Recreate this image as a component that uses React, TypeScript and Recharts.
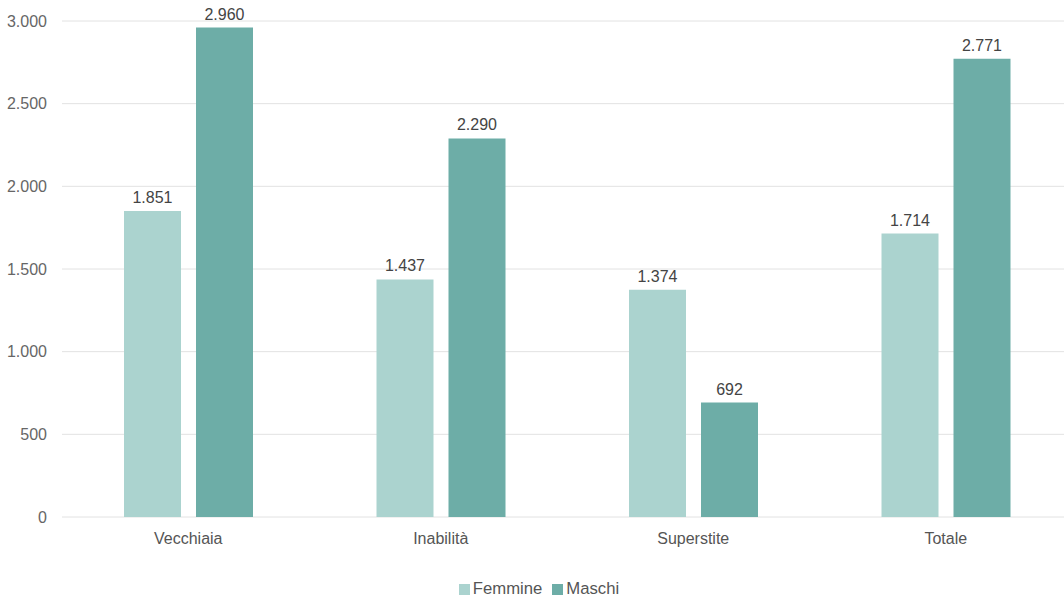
import React from "react";
import { BarChart, Bar, XAxis, YAxis, CartesianGrid, Legend, LabelList } from "recharts";

const categories = ["Vecchiaia", "Inabilità", "Superstite", "Totale"];
const femmine = [1851, 1437, 1374, 1714];
const maschi = [2960, 2290, 692, 2771];
const yTicks = [0, 500, 1000, 1500, 2000, 2500, 3000];

const data = categories.map((c, i) => ({ name: c, Femmine: femmine[i], Maschi: maschi[i] }));

const fmt = (v: any) => {
  const n = Number(v);
  return String(Math.round(n)).replace(/\B(?=(\d{3})+(?!\d))/g, ".");
};

export default function App() {
  return (
    <div style={{ position: "absolute", left: 0, top: 0, width: 1064, height: 598, overflow: "hidden", background: "#fff", fontFamily: "'Liberation Sans', Arial, sans-serif" }}>
      <BarChart
        width={1072}
        height={598}
        data={data}
        margin={{ top: 21, right: 0, bottom: 0, left: 0 }}
        barCategoryGap="24.46%"
        barGap={15}
      >
        <CartesianGrid vertical={false} stroke="#e2e2e2" />
        <XAxis
          dataKey="name"
          axisLine={false}
          tickLine={false}
          tickSize={0}
          tickMargin={16}
          height={45}
          tick={{ fill: "#555", fontSize: 16 }}
        />
        <YAxis
          domain={[0, 3000]}
          ticks={yTicks}
          axisLine={false}
          tickLine={false}
          tickSize={0}
          tickMargin={15}
          width={62}
          tickFormatter={fmt}
          tick={{ fill: "#666", fontSize: 16 }}
        />
        <Legend
          verticalAlign="bottom"
          iconType="square"
          iconSize={11}
          wrapperStyle={{ fontSize: 16.7, color: "#555", bottom: -16, height: 36, lineHeight: "22px", paddingLeft: 8 }}
          formatter={(value: any) => <span style={{ color: "#555", marginLeft: -1 }}>{value}</span>}
        />
        <Bar dataKey="Femmine" fill="#abd3cf" barSize={57} isAnimationActive={false}>
          <LabelList dataKey="Femmine" position="top" offset={8} formatter={fmt} style={{ fill: "#444", fontSize: 16 }} />
        </Bar>
        <Bar dataKey="Maschi" fill="#6dada7" barSize={57} isAnimationActive={false}>
          <LabelList dataKey="Maschi" position="top" offset={8} formatter={fmt} style={{ fill: "#444", fontSize: 16 }} />
        </Bar>
      </BarChart>
    </div>
  );
}
